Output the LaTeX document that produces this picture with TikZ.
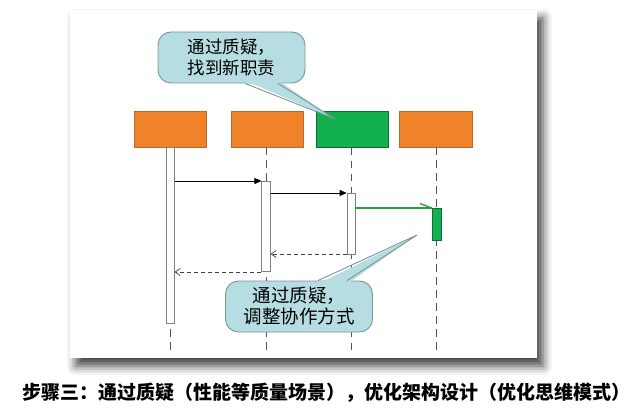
\documentclass[tikz,border=0pt]{standalone}
\usepackage{fontspec}
\newfontfamily\cjk{Noto Sans CJK SC}
\usetikzlibrary{arrows.meta,shadows.blur,calc}
\definecolor{orng}{HTML}{F0822A}
\definecolor{orngline}{HTML}{B86A30}
\definecolor{grn}{HTML}{12B04F}
\definecolor{grnline}{HTML}{0E6E32}
\definecolor{grnmsg}{HTML}{22A536}
\definecolor{callfill}{HTML}{B5DDE2}
\definecolor{callline}{HTML}{7D9599}
\definecolor{lifegray}{HTML}{555555}
\tikzset{
  hdbox/.style={draw=orngline, fill=orng, line width=0.6pt, minimum width=72pt, minimum height=36pt, inner sep=0pt},
  actbar/.style={draw=gray, fill=white, line width=0.7pt, minimum width=7.5pt, inner sep=0pt},
  lifeline/.style={draw=lifegray, line width=0.8pt, dash pattern=on 7.5pt off 5.5pt},
  callmsg/.style={draw=black, line width=0.7pt, -{Triangle[length=7pt,width=6pt]}},
  retmsg/.style={draw=black!75, line width=0.7pt, dash pattern=on 4pt off 3pt, -{Straight Barb[length=5pt,width=7pt]}},
  grnmsgline/.style={draw=grnmsg, line width=1.3pt},
  callout/.style={draw=callline, fill=callfill, line width=0.9pt, rounded corners=13pt, minimum width=147pt, minimum height=51pt, align=center, inner sep=0pt, font=\cjk\fontsize{17.5}{21.5}\selectfont},
}
\begin{document}
\begin{tikzpicture}[x=1pt,y=-1pt]
\useasboundingbox (0,0) rectangle (636,419);
% panel with shadow
\fill[white, blur shadow={shadow xshift=6pt, shadow yshift=-8pt, shadow blur radius=9pt, shadow opacity=75}] (70,10) rectangle (537,358);

% header boxes
\node[hdbox] (p1) at (170.5,129) {};
\node[hdbox] (p2) at (267.5,129) {};
\node[hdbox, draw=grnline, fill=grn] (p3) at (352.5,129.5) {};
\node[hdbox, minimum width=73pt] (p4) at (435.5,129) {};

% lifeline ends
\coordinate (e1) at (170.5,352);
\coordinate (e2) at (266,352);
\coordinate (e3) at (351.5,352);
\coordinate (e4) at (436.5,352);
\draw[lifeline] (p1.south) -- (e1);
\draw[lifeline] (p2.south -| e2) -- (e2);
\draw[lifeline] (p3.south -| e3) -- (e3);
\draw[lifeline] (p4.south -| e4) -- (e4);

% activation bars
\node[actbar, minimum height=176pt] (a1) at (170.5,235) {};
\node[actbar, minimum height=90pt, minimum width=8.5pt] (a2) at (266,226) {};
\node[actbar, minimum height=61pt, minimum width=8pt] (a3) at (351,223.5) {};
\node[actbar, draw=grnline, fill=grn, minimum height=32pt, minimum width=9pt] (a4) at (436.5,224) {};

% message levels
\coordinate (m1) at (0,181);
\coordinate (m2) at (0,193);
\coordinate (m3) at (0,208);
\coordinate (m4) at (0,254);
\coordinate (m5) at (0,272);
\draw[callmsg] (a1.east |- m1) -- (a2.west |- m1);
\draw[callmsg] (a2.east |- m2) -- (a3.west |- m2);
\draw[grnmsgline] (a3.east |- m3) -- (a4.west |- m3);
\coordinate (g1) at (420,203.5);
\draw[grnmsgline] (g1) -- (a4.west |- m3);
\draw[retmsg] (a3.west |- m4) -- (a2.east |- m4);
\draw[retmsg] (a2.west |- m5) -- (a1.east |- m5);

% callout 1
\node[callout] (c1) at (231.5,57.5) {通过质疑，\\找到新职责};
\coordinate (t1) at (335,119);
\fill[callfill] ($(c1.south -| 245,0)+(0,-3)$) -- (t1) -- ($(c1.south -| 278,0)+(0,-3)$) -- cycle;
\fill[callfill] (245,80) rectangle (278,84.2);
\draw[callline, line width=0.9pt] (c1.south -| 245,0) -- (t1) -- (c1.south -| 278,0);

% callout 2
\node[callout, font=\cjk\fontsize{18.5}{21}\selectfont] (c2) at (299,306.5) {通过质疑，\\调整协作方式};
\coordinate (t2) at (417,235);
\fill[callfill] (318,284) -- (t2) -- (347,284) -- cycle;
\fill[callfill] (318,280) rectangle (347,284);
\draw[callline, line width=0.9pt] (c2.north -| 318,0) -- (t2) -- (c2.north -| 347,0);

% caption
\node[font=\cjk\bfseries\fontsize{19}{22}\selectfont, inner sep=0pt] (cap) at (326,393) {步骤三：通过质疑（性能等质量场景），优化架构设计（优化思维模式）};
\end{tikzpicture}
\end{document}
